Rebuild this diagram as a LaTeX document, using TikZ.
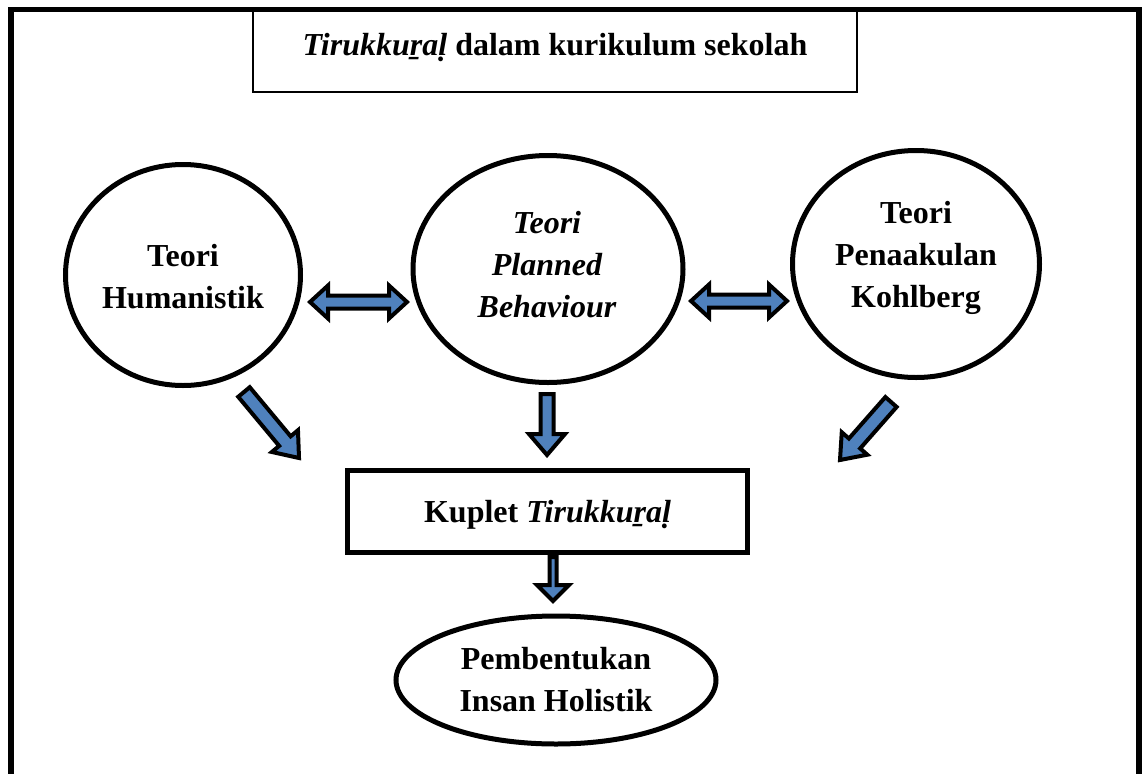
\documentclass[tikz,border=0pt]{standalone}
\usepackage{fontspec}
\setmainfont{Liberation Serif}
\usetikzlibrary{calc,shapes.geometric}
\definecolor{arrowblue}{HTML}{4F81BD}
\tikzset{
  frame/.style={line width=5.5pt, line cap=butt, line join=miter},
  titlebox/.style={draw, line width=1.3pt, inner sep=0pt, font=\fontsize{32}{42}\selectfont\bfseries},
  theoryshape/.style={draw, ellipse, line width=5pt, inner sep=0pt},
  theorytext/.style={align=center, inner sep=0pt, font=\fontsize{32}{42}\selectfont\bfseries},
  kupletbox/.style={draw, line width=5pt, inner sep=0pt, font=\fontsize{32}{42}\selectfont\bfseries},
  barrow/.style={draw=black, fill=arrowblue, line width=4pt, line join=miter}
}
% single block arrow: #1 name, #2 tail, #3 tip, #4 shaft half width, #5 head half width, #6 head length
\newcommand\blockarrow[6]{%
  \coordinate (#1-h) at ($(#3)!#6!(#2)$);
  \draw[barrow] ($(#2)!#4!90:(#3)$) -- ($(#1-h)!#4!90:(#3)$) -- ($(#1-h)!#5!90:(#3)$) -- (#3)
    -- ($(#1-h)!#5!-90:(#3)$) -- ($(#1-h)!#4!-90:(#3)$) -- ($(#2)!#4!-90:(#3)$) -- cycle;}
% double block arrow
\newcommand\dblarrow[6]{%
  \coordinate (#1-h1) at ($(#2)!#6!(#3)$);
  \coordinate (#1-h2) at ($(#3)!#6!(#2)$);
  \draw[barrow] (#2) -- ($(#1-h1)!#5!90:(#3)$) -- ($(#1-h1)!#4!90:(#3)$) -- ($(#1-h2)!#4!90:(#3)$)
    -- ($(#1-h2)!#5!90:(#3)$) -- (#3) -- ($(#1-h2)!#5!-90:(#3)$) -- ($(#1-h2)!#4!-90:(#3)$)
    -- ($(#1-h1)!#4!-90:(#3)$) -- ($(#1-h1)!#5!-90:(#3)$) -- cycle;}
\begin{document}
\begin{tikzpicture}[x=1pt,y=-1pt]
\useasboundingbox (0,0) rectangle (1144,774);
% outer frame
\coordinate (fbl) at (11,774);
\coordinate (ftl) at (11,9.5);
\coordinate (ftr) at (1139,9.5);
\coordinate (fbr) at (1139,774);
\draw[frame] (fbl) -- (ftl) -- (ftr) -- (fbr);
% title
\node[titlebox, minimum width=604pt, minimum height=82pt, text height=20pt, text depth=12pt] (title) at (555,51)
  {\textit{Tirukkuṟaḷ} dalam kurikulum sekolah};
% theories
\node[theoryshape, minimum width=235pt, minimum height=221pt] (hum) at (183,275) {};
\node[theorytext] (hum-t) at (183,277) {Teori\\Humanistik};
\node[theoryshape, minimum width=270pt, minimum height=227pt] (tpb) at (548,269) {};
\node[theorytext, font=\fontsize{32}{42}\selectfont\bfseries\itshape] (tpb-t) at (547,265) {Teori\\Planned\\Behaviour};
\node[theoryshape, minimum width=247pt, minimum height=227pt] (kohl) at (916,264) {};
\node[theorytext] (kohl-t) at (916,258) {Teori\\Penaakulan\\Kohlberg};
% kuplet
\node[kupletbox, minimum width=400pt, minimum height=82pt, text height=28pt, text depth=7pt] (kuplet) at (547.5,511.5)
  {Kuplet \textit{Tirukkuṟaḷ}};
% outcome
\node[theoryshape, minimum width=320pt, minimum height=128pt] (insan) at (556,680) {};
\node[theorytext] (insan-t) at (556,680) {Pembentukan\\Insan Holistik};
% arrows
\coordinate (d1a) at (310,302); \coordinate (d1b) at (407,302);
\dblarrow{d1}{d1a}{d1b}{6.5pt}{16.5pt}{18pt}
\coordinate (d2a) at (691,301); \coordinate (d2b) at (787,301);
\dblarrow{d2}{d2a}{d2b}{6.5pt}{16.5pt}{18pt}
\coordinate (m1a) at (547,394); \coordinate (m1b) at (547,455);
\blockarrow{m1}{m1a}{m1b}{6.5pt}{18pt}{21pt}
\coordinate (l1a) at (244,392); \coordinate (l1b) at (299,458);
\blockarrow{l1}{l1a}{l1b}{7.5pt}{17pt}{22pt}
\coordinate (r1a) at (891,402); \coordinate (r1b) at (840,460);
\blockarrow{r1}{r1a}{r1b}{7.5pt}{17pt}{22pt}
\coordinate (b1a) at (553,557); \coordinate (b1b) at (553,601);
\blockarrow{b1}{b1a}{b1b}{3.5pt}{16pt}{16pt}
\end{tikzpicture}
\end{document}
